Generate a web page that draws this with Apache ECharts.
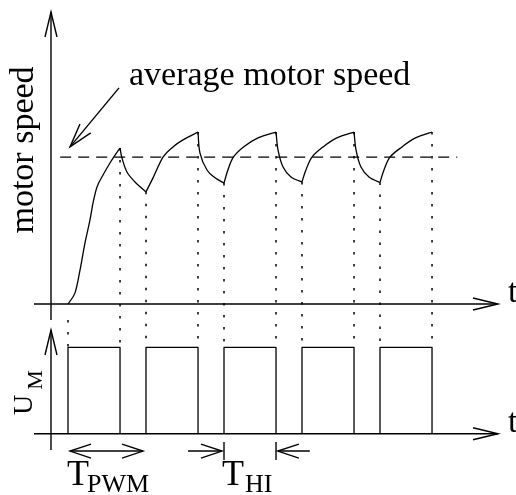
<!DOCTYPE html>
<html>
<head>
<meta charset="utf-8">
<script src="https://cdn.jsdelivr.net/npm/echarts@6/dist/echarts.min.js"></script>
<style>
html,body{margin:0;background:#fff}
#chart{width:516px;height:495px}
</style>
</head>
<body>
<div id="chart"></div>
<script>
// time is counted in PWM periods, speed in % of the speed axis, U_M from 0 (low) to 1 (high)
var pwmOn  = [0, 1, 2, 3, 4];
var pwmOff = [0.667, 1.667, 2.667, 3.667, 4.667];

// motor speed
var speedTime = [0, 0.09, 0.154, 0.218, 0.282, 0.321, 0.372, 0.449, 0.538, 0.603, 0.667,
    0.692, 0.756, 0.859, 1.0,
    1.09, 1.218, 1.346, 1.474, 1.667,
    1.692, 1.782, 1.885, 2.0,
    2.05, 2.12, 2.25, 2.43, 2.667,
    2.693, 2.757, 2.859, 3.0,
    3.05, 3.128, 3.27, 3.44, 3.667,
    3.693, 3.756, 3.859, 4.0,
    4.051, 4.128, 4.282, 4.449, 4.667];
var speedValue = [0, 3.8, 11.6, 20.9, 28.8, 34.6, 40.1, 44.2, 48.3, 51.0, 53.4,
    50.0, 45.2, 41.8, 38.4,
    43.2, 50.3, 53.8, 56.2, 58.9,
    51.7, 45.9, 43.2, 41.4,
    45.9, 50.3, 53.8, 56.8, 58.9,
    52.7, 46.9, 43.5, 41.8,
    45.9, 50.3, 53.8, 56.8, 58.9,
    52.7, 46.9, 43.5, 41.6,
    45.9, 50.3, 53.8, 56.8, 58.9];

var avgSpeed = 50.3;
var avgSpan = [-0.1, 4.99];
var noteArrow = [0.654, 74, 0.026, 53.8];      // "average motor speed" pointer
var guideBottom = -14.7;                        // pulse top, in speed units
var markLevel = -0.2;                           // T_PWM / T_HI arrows, in U units

var chart = echarts.init(document.getElementById('chart'));
var ink = '#000';
var lw = 1.4;

function vHead(tip, from, len, half) {
    var dx = tip[0] - from[0], dy = tip[1] - from[1];
    var d = Math.sqrt(dx * dx + dy * dy) || 1;
    var ux = dx / d, uy = dy / d;
    var bx = tip[0] - ux * len, by = tip[1] - uy * len;
    return [[bx - uy * half, by + ux * half], tip, [bx + uy * half, by - ux * half]];
}

// item: [x0, y0, x1, y1, heads] heads: 0 none, 1 at end, 2 both ends
function arrowRenderer(len, half) {
    return function (params, api) {
        var a = api.coord([api.value(0), api.value(1)]);
        var b = api.coord([api.value(2), api.value(3)]);
        var heads = api.value(4);
        var st = {stroke: ink, fill: null, lineWidth: lw};
        var kids = [{type: 'line', shape: {x1: a[0], y1: a[1], x2: b[0], y2: b[1]}, style: st}];
        if (heads >= 1) kids.push({type: 'polyline', shape: {points: vHead(b, a, len, half)}, style: st});
        if (heads >= 2) kids.push({type: 'polyline', shape: {points: vHead(a, b, len, half)}, style: st});
        return {type: 'group', children: kids};
    };
}

function guideRenderer(params, api) {
    var a = api.coord([api.value(0), api.value(1)]);
    var b = api.coord([api.value(0), api.value(2)]);
    return {
        type: 'line',
        shape: {x1: a[0], y1: a[1], x2: b[0], y2: b[1]},
        style: {stroke: ink, lineWidth: 1.5, lineDash: [2.5, 9.5]}
    };
}

// split the speed trace at the switching instants so the cusps stay sharp
var edges = pwmOn.concat(pwmOff);
var segments = [];
var seg = [];
for (var i = 0; i < speedTime.length; i++) {
    seg.push([speedTime[i], speedValue[i]]);
    if (i > 0 && edges.indexOf(speedTime[i]) >= 0) {
        segments.push(seg);
        seg = [[speedTime[i], speedValue[i]]];
    }
}

// catmull-rom through the pixel points, written as cubic beziers
function curvePath(p) {
    var d = 'M' + p[0][0] + ' ' + p[0][1];
    for (var k = 0; k < p.length - 1; k++) {
        var p0 = p[k - 1] || p[k], p1 = p[k], p2 = p[k + 1], p3 = p[k + 2] || p[k + 1];
        var c1x = p1[0] + (p2[0] - p0[0]) / 6, c1y = p1[1] + (p2[1] - p0[1]) / 6;
        var c2x = p2[0] - (p3[0] - p1[0]) / 6, c2y = p2[1] - (p3[1] - p1[1]) / 6;
        d += 'C' + c1x + ' ' + c1y + ' ' + c2x + ' ' + c2y + ' ' + p2[0] + ' ' + p2[1];
    }
    return d;
}

// one item per segment: [start time, start speed, segment index]
var segItems = segments.map(function (s, k) { return [s[0][0], s[0][1], k]; });
function traceRenderer(params, api) {
    var s = segments[api.value(2)];
    var pts = s.map(function (p) { return api.coord(p); });
    return {
        type: 'path',
        shape: {pathData: curvePath(pts)},
        style: {stroke: ink, fill: null, lineWidth: 1.3}
    };
}

// dotted guides from the trace down to the pulses
var guides = [[0, -5.5, guideBottom]];
edges.forEach(function (t) {
    var k = speedTime.indexOf(t);
    if (t > 0 && k >= 0) guides.push([t, speedValue[k], guideBottom]);
});

var pwmData = [];
for (var j = 0; j < pwmOn.length; j++) {
    pwmData.push([pwmOn[j], 0], [pwmOn[j], 1], [pwmOff[j], 1], [pwmOff[j], 0], [pwmOff[j], null]);
}

var series = [];
series.push({
    type: 'custom', xAxisIndex: 0, yAxisIndex: 0, renderItem: traceRenderer,
    encode: {x: 0, y: 1}, data: segItems
});
series.push({
    type: 'line', xAxisIndex: 0, yAxisIndex: 0,
    data: [[avgSpan[0], avgSpeed], [avgSpan[1], avgSpeed]],
    showSymbol: false, lineStyle: {color: ink, width: 1.3, type: [11, 7]}
});
series.push({
    type: 'custom', xAxisIndex: 0, yAxisIndex: 0, renderItem: guideRenderer, data: guides
});
series.push({
    type: 'line', xAxisIndex: 1, yAxisIndex: 1, data: pwmData, connectNulls: false,
    showSymbol: false, lineStyle: {color: ink, width: 1.3}
});
// axes with open arrow heads
series.push({
    type: 'custom', xAxisIndex: 0, yAxisIndex: 0, renderItem: arrowRenderer(25, 6),
    data: [[-0.436, 0, 5.513, 0, 1], [-0.218, -5.5, -0.218, 100, 1]]
});
series.push({
    type: 'custom', xAxisIndex: 1, yAxisIndex: 1, renderItem: arrowRenderer(25, 6),
    data: [[-0.436, 0, 5.513, 0, 1], [-0.218, -0.187, -0.218, 1.2, 1]]
});
series.push({
    type: 'custom', xAxisIndex: 0, yAxisIndex: 0, renderItem: arrowRenderer(24, 7),
    data: [[noteArrow[0], noteArrow[1], noteArrow[2], noteArrow[3], 1]]
});
series.push({
    type: 'custom', xAxisIndex: 1, yAxisIndex: 1, renderItem: arrowRenderer(21, 7),
    data: [
        [0.026, markLevel, 0.962, markLevel, 2],
        [1.538, markLevel, 1.974, markLevel, 1],
        [3.1, markLevel, 2.69, markLevel, 1],
        [2, -0.095, 2, -0.303, 0],
        [2.667, -0.095, 2.667, -0.303, 0]
    ]
});

var serif = '"Liberation Serif", "Times New Roman", serif';
function txt(s, size, x, y, align, rot) {
    return {
        type: 'text', x: x, y: y, rotation: rot || 0,
        style: {text: s, fontSize: size, fontFamily: serif, fill: ink,
            textAlign: align, verticalAlign: 'middle', textVerticalAlign: 'middle'}
    };
}

chart.setOption({
    animation: false,
    backgroundColor: '#fff',
    grid: [
        {left: 29, right: 19, top: 12, height: 292},
        {left: 29, right: 19, top: 330, height: 147}
    ],
    xAxis: [
        {type: 'value', gridIndex: 0, min: -0.5, max: 5.5, show: false},
        {type: 'value', gridIndex: 1, min: -0.5, max: 5.5, show: false}
    ],
    yAxis: [
        {type: 'value', gridIndex: 0, min: 0, max: 100, show: false},
        {type: 'value', gridIndex: 1, min: -0.5, max: 1.2, show: false}
    ],
    series: series,
    graphic: [
        txt('average motor speed', 34, 129, 76.5, 'left'),
        txt('motor speed', 34, 24, 150, 'center', Math.PI / 2),
        txt('t', 34, 508, 293.5, 'left'),
        txt('t', 34, 508, 423.5, 'left'),
        txt('U', 28, 25, 405, 'center', Math.PI / 2),
        txt('M', 22, 36.5, 380, 'center', Math.PI / 2),
        txt('T', 36, 67, 476, 'left'),
        txt('PWM', 26, 87, 485, 'left'),
        txt('T', 36, 222, 476, 'left'),
        txt('HI', 26, 245, 485, 'left')
    ]
});
</script>
</body>
</html>
